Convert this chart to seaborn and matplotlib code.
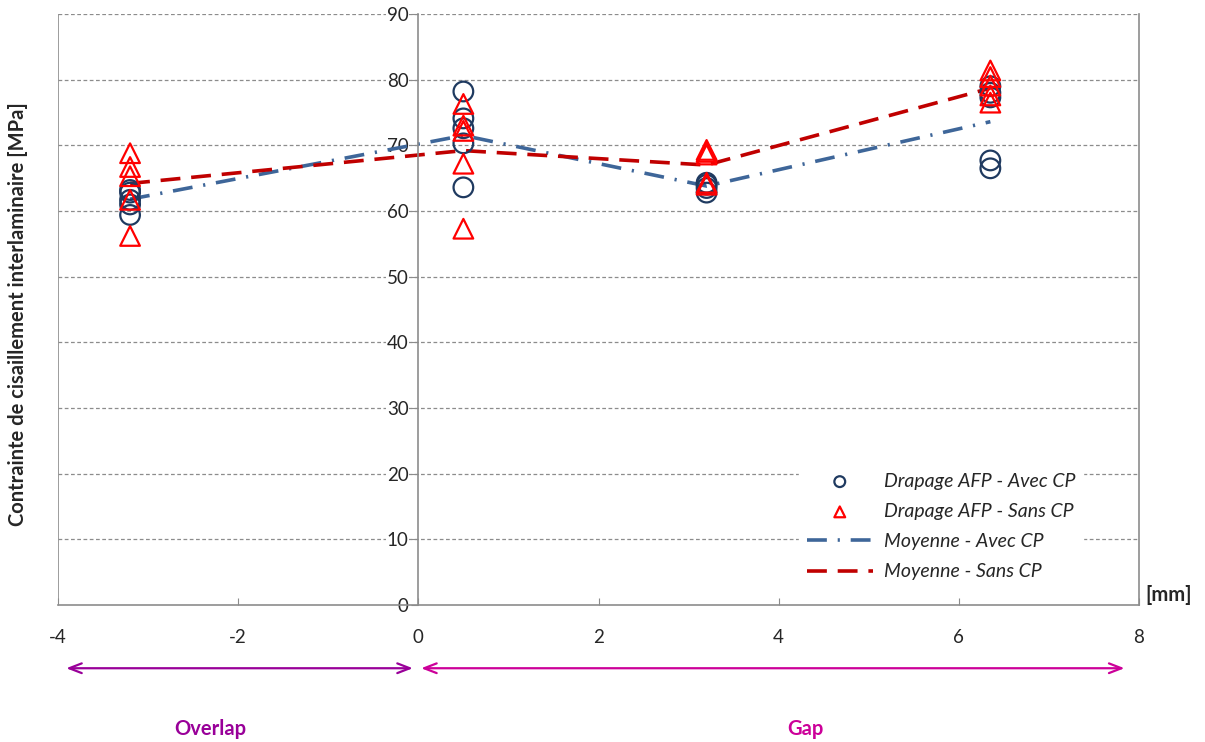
import pandas as pd
import matplotlib
matplotlib.use('Agg')
import matplotlib.pyplot as plt
import seaborn as sns

# positions (mm) : negative = overlap, positive = gap
x_avec = [-3.2] * 5 + [0.5] * 5 + [3.2] * 4 + [6.35] * 5
y_avec = [63.2, 62.8, 61.7, 61.0, 59.4,
          78.2, 74.1, 72.6, 70.3, 63.6,
          64.3, 64.0, 63.5, 62.8,
          79.0, 78.0, 77.3, 67.7, 66.5]

x_sans = [-3.2] * 5 + [0.5] * 5 + [3.2] * 5 + [6.35] * 5
y_sans = [68.8, 66.7, 65.3, 61.7, 56.2,
          76.3, 73.0, 72.2, 67.2, 57.3,
          69.3, 69.0, 68.6, 64.3, 64.0,
          81.4, 80.4, 79.1, 77.6, 76.5]

x_moy = [-3.2, 0.5, 3.2, 6.35]
moy_avec = [61.8, 71.5, 63.8, 73.6]
moy_sans = [64.2, 69.2, 67.0, 78.7]

navy = '#1F3A60'
blue = '#3E6699'
red = '#C00000'
grid_col = '#8C8C8C'

sns.set_style('white')
plt.rcParams['font.family'] = ['Lato', 'DejaVu Sans']
plt.rcParams['axes.unicode_minus'] = False

fig = plt.figure(figsize=(12.05, 7.42), dpi=100)
ax = fig.add_axes([58 / 1205, 137 / 742, 1081 / 1205, 591 / 742])

df_avec = pd.DataFrame({'x': x_avec, 'y': y_avec})
df_sans = pd.DataFrame({'x': x_sans, 'y': y_sans})
df_moy = pd.DataFrame({'x': x_moy, 'avec': moy_avec, 'sans': moy_sans})

sns.scatterplot(data=df_avec, x='x', y='y', ax=ax, marker='o', s=200,
                facecolors='none', edgecolor=navy, linewidth=1.6,
                label='Drapage AFP - Avec CP', zorder=3)
sns.scatterplot(data=df_sans, x='x', y='y', ax=ax, marker='^', s=200,
                facecolors='none', edgecolor='#FF0000', linewidth=1.6,
                label='Drapage AFP - Sans CP', zorder=4)
sns.lineplot(data=df_moy, x='x', y='avec', ax=ax, color=blue, linewidth=2.6,
             linestyle=(0, (5.5, 3, 0.6, 3)), label='Moyenne - Avec CP', zorder=2)
sns.lineplot(data=df_moy, x='x', y='sans', ax=ax, color=red, linewidth=2.6,
             linestyle=(0, (5.5, 3)), label='Moyenne - Sans CP', zorder=2)

ax.set_xlim(-4, 8)
ax.set_ylim(0, 90)
ax.set_xticks(range(-4, 9, 2))
ax.set_yticks(range(0, 91, 10))
ax.set_xlabel('')
ax.set_ylabel('')

# dashed grid
for v in range(10, 91, 10):
    ax.axhline(v, color=grid_col, linestyle=(0, (3, 2)), linewidth=0.9, zorder=0)

# frame: y axis through x=0, plus a left border
ax.spines['left'].set_position(('data', 0))
ax.spines['top'].set_visible(False)
for sp in ['left', 'right', 'bottom']:
    ax.spines[sp].set_color(grid_col)
    ax.spines[sp].set_linewidth(1.2)
ax.axvline(-4, color=grid_col, linewidth=1.2, zorder=1)

ax.tick_params(axis='y', direction='out', length=5, color=grid_col,
               labelsize=13.5, pad=2, left=True)
ax.tick_params(axis='x', direction='in', length=5, color=grid_col,
               labelsize=13.5, pad=17, bottom=True)
for lbl in ax.get_yticklabels():
    lbl.set_bbox(dict(facecolor='white', edgecolor='none', pad=0.5))

fig.text(18 / 1205, 1 - 314 / 742, 'Contrainte de cisaillement interlaminaire [MPa]',
         rotation=90, ha='center', va='center', fontsize=14.5, fontweight='bold')
fig.text(1169 / 1205, 1 - 595 / 742, '[mm]', ha='center', va='center',
         fontsize=14.5, fontweight='bold')

# overlap / gap arrows under the axis
ax.annotate('', xy=(-3.94, -0.107), xytext=(-0.03, -0.107),
            xycoords=('data', 'axes fraction'), textcoords=('data', 'axes fraction'),
            arrowprops=dict(arrowstyle='<->,head_length=0.9,head_width=0.35',
                            color='#990099', linewidth=1.6), annotation_clip=False)
ax.annotate('', xy=(0.0, -0.107), xytext=(7.87, -0.107),
            xycoords=('data', 'axes fraction'), textcoords=('data', 'axes fraction'),
            arrowprops=dict(arrowstyle='<->,head_length=0.9,head_width=0.35',
                            color='#CC0099', linewidth=1.6), annotation_clip=False)
fig.text(210 / 1205, 1 - 729 / 742, 'Overlap', ha='center', va='center',
         fontsize=14.5, fontweight='bold', color='#990099')
fig.text(805 / 1205, 1 - 729 / 742, 'Gap', ha='center', va='center',
         fontsize=14.5, fontweight='bold', color='#CC0099')

handles, labels = ax.get_legend_handles_labels()
leg = ax.legend(handles, labels, loc='lower right', bbox_to_anchor=(0.957, 0.012),
                frameon=True, fancybox=False, framealpha=1, edgecolor='white',
                prop={'style': 'italic', 'size': 14}, markerscale=0.55,
                handlelength=3.4, labelspacing=0.68, handletextpad=0.55)

fig.savefig('out.png', dpi=100)
